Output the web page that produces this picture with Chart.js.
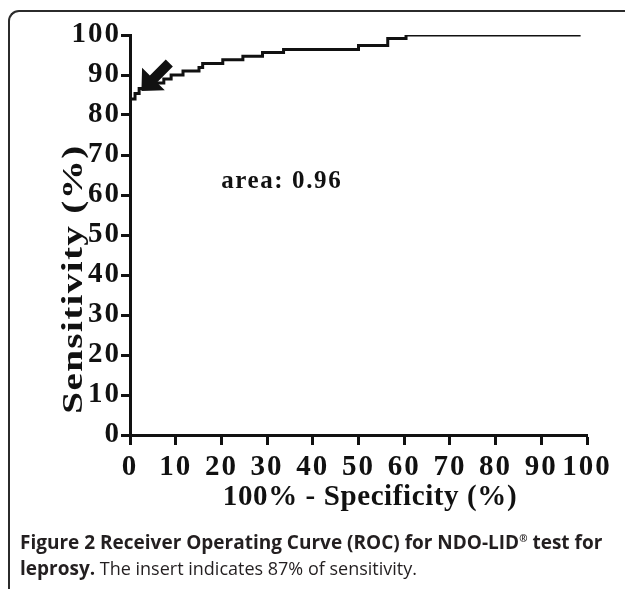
<!DOCTYPE html>
<html>
<head>
<meta charset="utf-8">
<script src="https://cdn.jsdelivr.net/npm/chart.js@4/dist/chart.umd.min.js"></script>
<style>
  html, body { margin:0; padding:0; width:625px; height:589px; overflow:hidden; background:#fff; }
  #frame { position:absolute; left:8px; top:10px; width:700px; height:700px;
           border-top:2px solid #2b2b2b; border-left:2px solid #2b2b2b; border-top-left-radius:11px; }
  #wrap { position:absolute; left:0; top:0; width:625px; height:589px; }
  #caption { position:absolute; left:20px; top:529px; width:605px; font-family:"Open Sans", sans-serif;
             font-size:18px; line-height:26px; color:#231f20; white-space:nowrap; }
  #caption b { font-weight:700; font-size:19px; }
  #caption sup { font-size:10px; vertical-align:7px; line-height:0; }
</style>
</head>
<body>
<div id="frame"></div>
<div id="wrap"><canvas id="c" width="625" height="589"></canvas></div>
<div id="caption"><b>Figure 2 Receiver Operating Curve (ROC) for NDO-LID<sup>®</sup> test for</b><br><b>leprosy.</b> The insert indicates 87% of sensitivity.</div>
<script>
// ROC step points: 100% - specificity (x) and sensitivity (y)
const falsePositiveRate = [0, 0, 1.1, 2.0, 3.5, 7.4, 9.0, 11.6, 15.1, 15.9, 20.3, 24.7, 29.0, 33.6, 50.0, 56.4, 60.4, 68.2, 98.6];
const sensitivity       = [0, 82.7, 84.0, 85.4, 86.6, 88.0, 89.0, 90.0, 91.0, 91.9, 92.9, 93.8, 94.7, 95.6, 96.4, 97.4, 99.1, 100, 100];
const xTicks = [0, 10, 20, 30, 40, 50, 60, 70, 80, 90, 100];
const yTicks = [0, 10, 20, 30, 40, 50, 60, 70, 80, 90, 100];
const areaLabel = "area: 0.96";
const areaPos = [33.2, 63.3];
const arrowTip = [2.5, 86.0];
const arrowTail = [8.6, 93.0];
const xTitle = "100% - Specificity (%)";
const yTitle = "Sensitivity (%)";

const INK = '#111';
const SERIF = '"Liberation Serif", "Times New Roman", serif';
const tickFont = { family: SERIF, size: 29, weight: 'bold' };

const points = falsePositiveRate.map((x, i) => ({ x: x, y: sensitivity[i] }));

const spacing = {
  id: 'spacing',
  beforeDraw(chart) { chart.ctx.letterSpacing = '2px'; }
};

const extras = {
  id: 'extras',
  afterDatasetsDraw(chart) {
    const ctx = chart.ctx, xs = chart.scales.x, ys = chart.scales.y;
    ctx.save();
    // area label
    ctx.fillStyle = INK;
    ctx.letterSpacing = '1.6px';
    ctx.font = 'bold 25px ' + SERIF;
    ctx.textAlign = 'center'; ctx.textBaseline = 'middle';
    ctx.fillText(areaLabel, xs.getPixelForValue(areaPos[0]), ys.getPixelForValue(areaPos[1]));
    // arrow
    const tx = xs.getPixelForValue(arrowTip[0]), ty = ys.getPixelForValue(arrowTip[1]);
    const ex = xs.getPixelForValue(arrowTail[0]), ey = ys.getPixelForValue(arrowTail[1]);
    const ang = Math.atan2(ey - ty, ex - tx);
    const len = Math.hypot(ex - tx, ey - ty);
    ctx.translate(tx, ty); ctx.rotate(ang);
    ctx.beginPath();
    const headL = 17, headW = 16, shaftW = 5;
    ctx.moveTo(0, 0);
    ctx.lineTo(headL, -headW);
    ctx.lineTo(headL, -shaftW);
    ctx.lineTo(len, -shaftW);
    ctx.lineTo(len, shaftW);
    ctx.lineTo(headL, shaftW);
    ctx.lineTo(headL, headW);
    ctx.closePath();
    ctx.fill();
    ctx.restore();
    // axis titles
    ctx.save();
    ctx.fillStyle = INK;
    ctx.font = 'bold 29px ' + SERIF;
    ctx.textAlign = 'center'; ctx.textBaseline = 'middle';
    ctx.letterSpacing = '0.6px';
    ctx.fillText(xTitle, 370, 498);
    ctx.letterSpacing = '1px';
    ctx.translate(75, 279);
    ctx.rotate(-Math.PI / 2);
    ctx.scale(1.35, 1);
    ctx.fillText(yTitle, 0, 0);
    ctx.restore();
  }
};

new Chart(document.getElementById('c'), {
  type: 'line',
  data: { datasets: [{ data: points, stepped: 'after', borderColor: INK, borderWidth: 3,
                       pointRadius: 0, fill: false, tension: 0 }] },
  options: {
    responsive: false, animation: false,
    layout: { padding: { left: 0, top: 35, right: 38, bottom: 0 } },
    plugins: { legend: { display: false }, tooltip: { enabled: false } },
    scales: {
      x: {
        type: 'linear', min: 0, max: 100,
        afterBuildTicks: s => { s.ticks = xTicks.map(v => ({ value: v })); },
        afterFit: s => { s.height = 154; },
        grid: { drawOnChartArea: false, drawTicks: true, tickLength: 10, tickWidth: 3, color: INK },
        border: { display: true, width: 3, color: INK },
        ticks: { color: INK, font: tickFont, padding: 5, maxRotation: 0, autoSkip: false }
      },
      y: {
        type: 'linear', min: 0, max: 100,
        afterBuildTicks: s => { s.ticks = yTicks.map(v => ({ value: v })); },
        afterFit: s => { s.width = 130; },
        grid: { drawOnChartArea: false, drawTicks: true, tickLength: 9, tickWidth: 3, color: INK },
        border: { display: true, width: 3, color: INK },
        ticks: { color: INK, font: tickFont, padding: 0, autoSkip: false }
      }
    }
  },
  plugins: [spacing, extras]
});
</script>
</body>
</html>
